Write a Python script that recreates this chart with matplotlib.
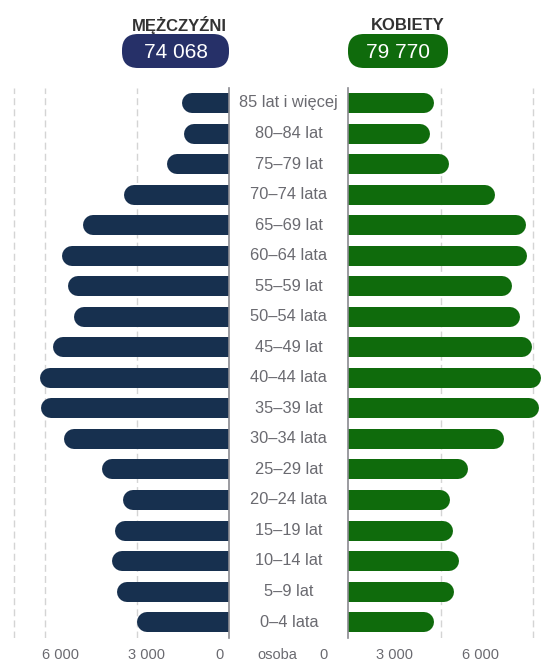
import matplotlib
matplotlib.use("Agg")
import matplotlib.pyplot as plt
from matplotlib.patches import FancyBboxPatch

plt.rcParams['font.family'] = ['Liberation Sans', 'DejaVu Sans']

# -------------------------------
# Data
# -------------------------------
age_groups = ["0–4 lata", "5–9 lat", "10–14 lat", "15–19 lat", "20–24 lata",
              "25–29 lat", "30–34 lata", "35–39 lat", "40–44 lata", "45–49 lat",
              "50–54 lata", "55–59 lat", "60–64 lata", "65–69 lat", "70–74 lata",
              "75–79 lat", "80–84 lat", "85 lat i więcej"]
men = [3010, 3640, 3810, 3705, 3445, 4147, 5362, 6110, 6165, 5730,
       5047, 5252, 5427, 4765, 3412, 2025, 1485, 1537]
women = [2777, 3425, 3596, 3402, 3318, 3888, 5045, 6211, 6276, 5975,
         5573, 5336, 5822, 5780, 4763, 3263, 2670, 2786]
men_total = "74 068"
women_total = "79 770"
left_ticks = ["6 000", "3 000", "0"]
right_ticks = ["0", "3 000", "6 000"]

navy = "#17304f"
green = "#0f6b0c"
pill_navy = "#263068"
grid_col = "#d4d4d4"
text_gray = "#6a6a70"

W, H = 557, 664
fig = plt.figure(figsize=(W / 100, H / 100), dpi=100)

# axes geometry (pixels)
top_px, bot_px = 88, 638
zero_l, zero_r = 229.3, 348.3
ax_l = fig.add_axes([0, 1 - bot_px / H, zero_l / W, (bot_px - top_px) / H])
ax_r = fig.add_axes([zero_r / W, 1 - bot_px / H, (W - zero_r) / W, (bot_px - top_px) / H])
ax_l.set_xlim(7452, 0)
ax_r.set_xlim(0, 6783)

ypos = list(range(len(age_groups)))
bar_px = 20  # bar thickness in pixels

for ax, vals, col, grid in [(ax_l, men, navy, [3000, 6000, 7000]),
                            (ax_r, women, green, [3000, 6000])]:
    ax.set_ylim(-0.52, 17.49)
    ax.axis('off')
    for g in grid:
        ax.axvline(g, color=grid_col, lw=1, ls=(0, (5, 3)), zorder=1)
    ax.axvline(0, color="#8a8a90", lw=1.2, zorder=4, clip_on=False)
    span = abs(ax.get_xlim()[1] - ax.get_xlim()[0])
    cap = (bar_px / 2) * span / ax.bbox.width
    # round cap only shows on the outer end, the inner one is clipped at zero
    for y, v in zip(ypos, vals):
        ax.plot([-cap * 2, v - cap], [y, y], color=col, lw=bar_px * 0.72,
                solid_capstyle='round', zorder=3)

# -------------------------------
# Overlay in pixel coordinates
# -------------------------------
ov = fig.add_axes([0, 0, 1, 1])
ov.set_xlim(0, W)
ov.set_ylim(H, 0)
ov.axis('off')

row_top, row_step = 103, 30.53
for i, lab in enumerate(age_groups):
    y = row_top + (len(age_groups) - 1 - i) * row_step
    ov.text((zero_l + zero_r) / 2, y, lab, ha='center', va='center',
            fontsize=11.8, color=text_gray)

ov.text(179, 25, "MĘŻCZYŹNI", ha='center', va='center', fontsize=12,
        fontweight='bold', color="#333333")
ov.text(408, 25, "KOBIETY", ha='center', va='center', fontsize=12,
        fontweight='bold', color="#333333")

for x0, x1, col, txt in [(122, 229, pill_navy, men_total),
                         (348, 448, green, women_total)]:
    ov.add_patch(FancyBboxPatch((x0, 34), x1 - x0, 34,
                                boxstyle="round,pad=0,rounding_size=16",
                                fc=col, ec='none'))
    ov.text((x0 + x1) / 2, 52, txt, ha='center', va='center',
            fontsize=15, color='white')

bottom_y = 655
for x, t in zip([61, 147, 219], left_ticks):
    ov.text(x, bottom_y, t, ha='center', va='center', fontsize=10.5, color=text_gray)
for x, t in zip([323, 394, 481], right_ticks):
    ov.text(x, bottom_y, t, ha='center', va='center', fontsize=10.5, color=text_gray)
ov.text(277, bottom_y, "osoba", ha='center', va='center', fontsize=10.5, color=text_gray)

fig.savefig("out.png", dpi=100)
